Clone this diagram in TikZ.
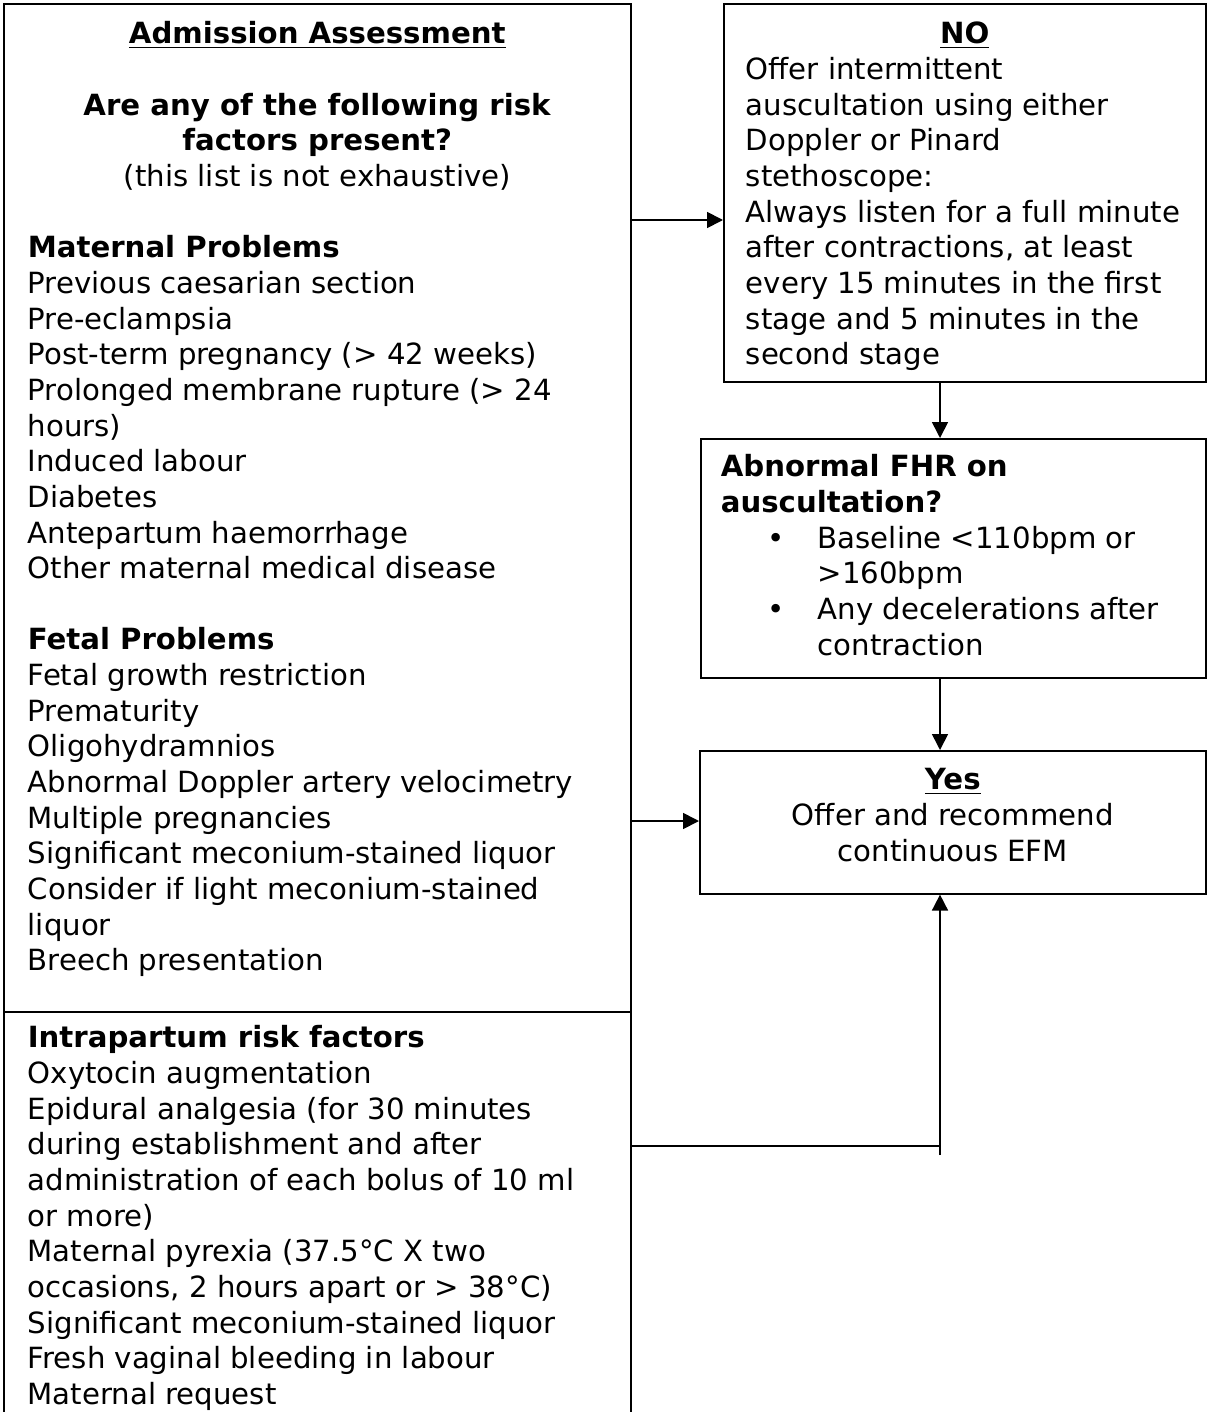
\documentclass[tikz,border=0pt]{standalone}
\usepackage{fontspec}
\setmainfont{DejaVu Sans}
\usetikzlibrary{arrows.meta}

\newcommand{\boxtext}[3]{\parbox[c][#1][t]{#2}{\strut #3}}
\newcommand{\fhritem}{\makebox[48.5pt][l]{\hspace{23.5pt}\textbullet}}
\newcommand{\fhrmore}{\hspace*{48.5pt}}

\begin{document}
\begin{tikzpicture}[x=0.5pt, y=-0.5pt,
    every node/.style={font=\fontsize{14.6pt}{17.83pt}\selectfont},
    panel/.style={draw, line width=0.8pt, rectangle, anchor=north west},
    flow/.style={-{Triangle[length=8pt,width=8pt]}, line width=0.85pt}]
  \useasboundingbox (0,0) rectangle (1206,1412);

  % left column
  \node[panel, inner xsep=12pt, inner ysep=7.5pt] (adm) at (3,3) {\boxtext{489pt}{289.5pt}{%
      \centering\underline{\textbf{Admission Assessment}}\\[17.83pt]
      \textbf{Are any of the following risk}\\
      \textbf{factors present?}\\
      (this list is not exhaustive)\par
      \raggedright\vspace{17.83pt}
      \textbf{Maternal Problems}\\
      Previous caesarian section\\
      Pre-eclampsia\\
      Post-term pregnancy (> 42 weeks)\\
      Prolonged membrane rupture (> 24\\
      hours)\\
      Induced labour\\
      Diabetes\\
      Antepartum haemorrhage\\
      Other maternal medical disease\\[17.83pt]
      \textbf{Fetal Problems}\\
      Fetal growth restriction\\
      Prematurity\\
      Oligohydramnios\\
      Abnormal Doppler artery velocimetry\\
      Multiple pregnancies\\
      Significant meconium-stained liquor\\
      Consider if light meconium-stained\\
      liquor\\
      Breech presentation}};
  \node[panel, inner xsep=12pt, inner ysep=5.5pt] (intra) at (3,1011) {\boxtext{199pt}{289.5pt}{%
      \raggedright\textbf{Intrapartum risk factors}\\
      Oxytocin augmentation\\
      Epidural analgesia (for 30 minutes\\
      during establishment and after\\
      administration of each bolus of 10 ml\\
      or more)\\
      Maternal pyrexia (37.5°C X two\\
      occasions, 2 hours apart or > 38°C)\\
      Significant meconium-stained liquor\\
      Fresh vaginal bleeding in labour\\
      Maternal request}};

  % right column
  \node[panel, inner xsep=11pt, inner ysep=7.5pt] (no) at (723,3) {\boxtext{174pt}{219pt}{%
      \centering\underline{\textbf{NO}}\par
      \raggedright
      Offer intermittent\\
      auscultation using either\\
      Doppler or Pinard\\
      stethoscope:\\
      Always listen for a full minute\\
      after contractions, at least\\
      every 15 minutes in the first\\
      stage and 5 minutes in the\\
      second stage}};
  \node[panel, inner xsep=10pt, inner ysep=6.5pt] (fhr) at (700,438) {\boxtext{106.5pt}{232.5pt}{%
      \raggedright\textbf{Abnormal FHR on}\\
      \textbf{auscultation?}\\
      \fhritem Baseline <110bpm or\\
      \fhrmore >160bpm\\
      \fhritem Any decelerations after\\
      \fhrmore contraction}};
  \node[panel, inner xsep=10pt, inner ysep=7pt] (yes) at (699,750) {\boxtext{57.5pt}{233pt}{%
      \centering\underline{\textbf{Yes}}\\
      Offer and recommend\\
      continuous EFM}};

  % connectors
  \coordinate (spine) at (940,0);
  \coordinate (toNO) at (630,220);
  \coordinate (toYes) at (630,821);
  \coordinate (join) at (940,1146);
  \coordinate (tail) at (940,1155);
  \draw[flow] (toNO) -- (toNO -| no.west);
  \draw[flow] (toYes) -- (toYes -| yes.west);
  \draw[flow] (no.south -| spine) -- (fhr.north -| spine);
  \draw[flow] (fhr.south -| spine) -- (yes.north -| spine);
  \draw[line width=0.8pt] (intra.east |- join) -- (join);
  \draw[flow] (tail) -- (yes.south -| tail);
\end{tikzpicture}
\end{document}
